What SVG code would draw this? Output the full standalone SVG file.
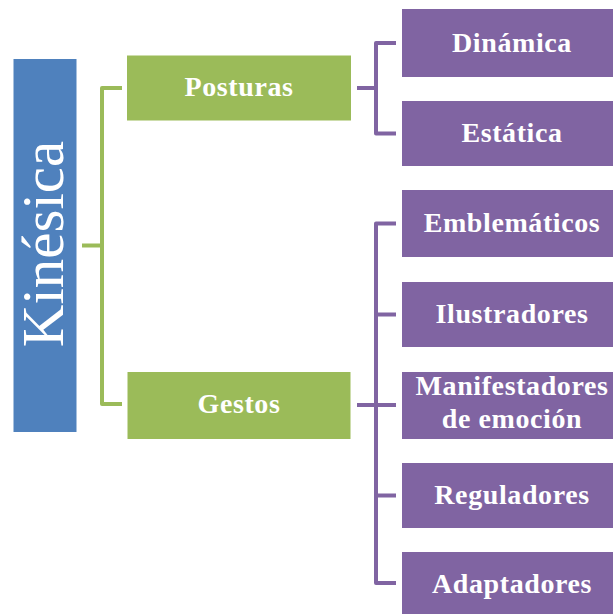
<svg xmlns="http://www.w3.org/2000/svg" width="613" height="614" viewBox="0 0 613 614">
<style>
.t{font-family:"Liberation Serif","DejaVu Serif",serif;fill:#fff;text-anchor:middle}
.b{font-weight:bold;font-size:28px;letter-spacing:0.6px}
.g{fill:#9BBB59}
.p{fill:#8064A2}
.cg{fill:none;stroke:#9BBB59;stroke-width:4;stroke-linejoin:round}
.cp{fill:none;stroke:#8064A2;stroke-width:4;stroke-linejoin:round}
</style>
<rect width="613" height="614" fill="#fff"/>
<g id="connectors">
<path class="cg" d="M82 245.5H102M122 88H102V404H122"/>
<path class="cp" d="M357 88H376M396 43H376V133.5H396"/>
<path class="cp" d="M357 405H376M396 223.5H376V583H396M376 314.5H396M376 405H396M376 495.5H396"/>
</g>
<g id="kinesica">
<rect x="13.5" y="59" width="63" height="373" fill="#4F81BD"/>
<text class="t" transform="translate(63 244) rotate(-90)" font-size="59">Kinésica</text>
</g>
<g id="posturas">
<rect class="g" x="127" y="55.5" width="224" height="65"/>
<text class="t b" x="239" y="96">Posturas</text>
</g>
<g id="gestos">
<rect class="g" x="127.5" y="372" width="223" height="67"/>
<text class="t b" x="239" y="413">Gestos</text>
</g>
<g id="dinamica">
<rect class="p" x="402" y="9" width="220" height="68"/>
<text class="t b" x="512" y="52">Dinámica</text>
</g>
<g id="estatica">
<rect class="p" x="402" y="101" width="220" height="65"/>
<text class="t b" x="512" y="142">Estática</text>
</g>
<g id="emblematicos">
<rect class="p" x="402" y="190" width="220" height="67"/>
<text class="t b" x="512" y="232">Emblemáticos</text>
</g>
<g id="ilustradores">
<rect class="p" x="402" y="282" width="220" height="65"/>
<text class="t b" x="512" y="323">Ilustradores</text>
</g>
<g id="manifestadores">
<rect class="p" x="402" y="372" width="220" height="67"/>
<text class="t b" x="512" y="395">Manifestadores</text>
<text class="t b" x="512" y="428">de emoción</text>
</g>
<g id="reguladores">
<rect class="p" x="402" y="463" width="220" height="65"/>
<text class="t b" x="512" y="504">Reguladores</text>
</g>
<g id="adaptadores">
<rect class="p" x="402" y="552" width="220" height="68"/>
<text class="t b" x="512" y="593">Adaptadores</text>
</g>
</svg>
